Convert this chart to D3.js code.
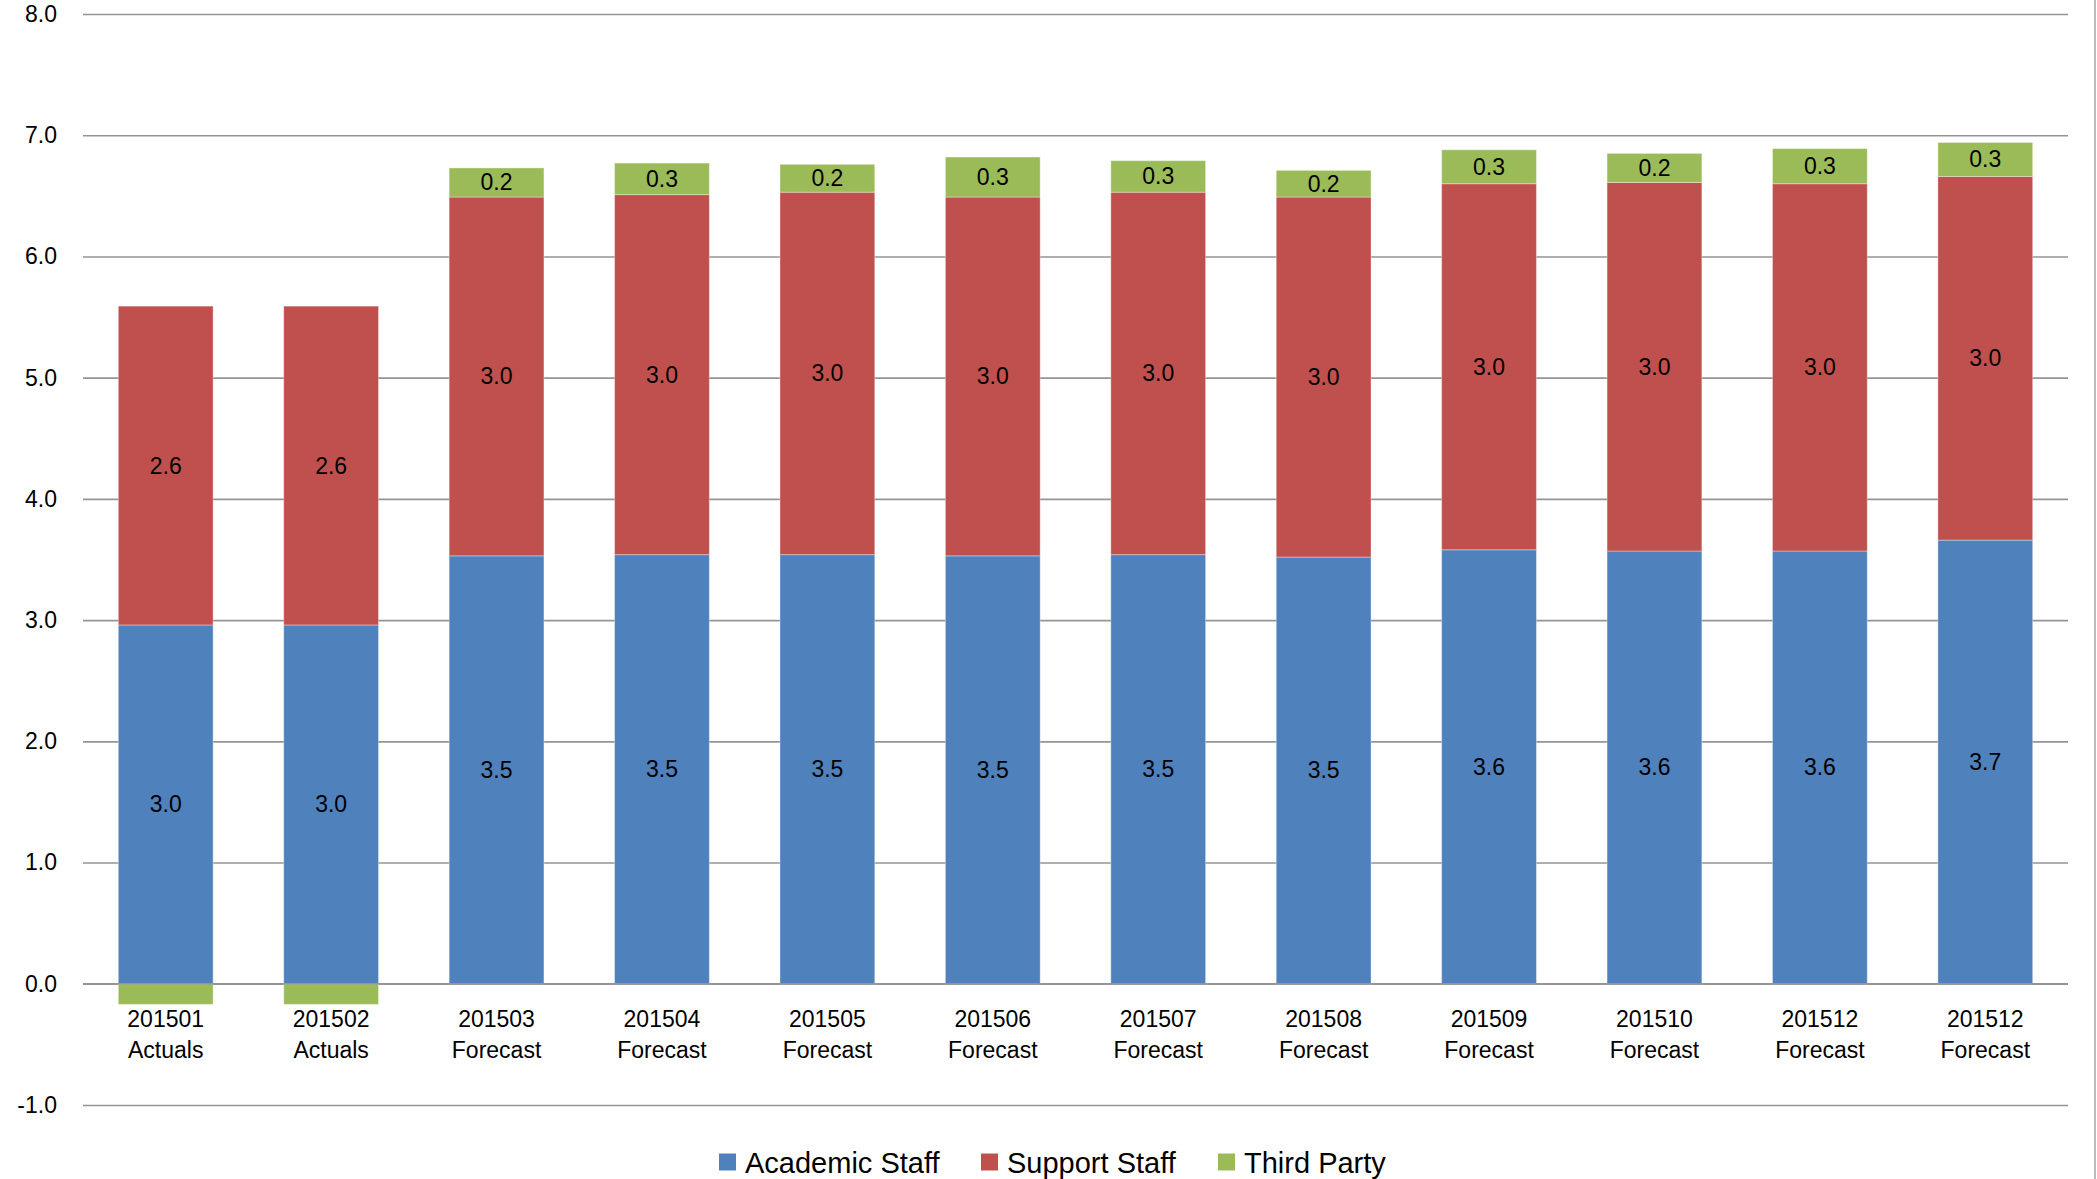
<!DOCTYPE html>
<html>
<head>
<meta charset="utf-8">
<script src="https://cdn.jsdelivr.net/npm/d3@7"></script>
<style>
  html, body { margin: 0; padding: 0; background: #fff; }
  svg { display: block; font-family: "Liberation Sans", Arial, sans-serif; }
</style>
</head>
<body>
<svg id="chart" width="2097" height="1179"></svg>
<script>
// ---- Data ----
const periods = ["201501", "201502", "201503", "201504", "201505", "201506",
                 "201507", "201508", "201509", "201510", "201512", "201512"];
const periodTypes = ["Actuals", "Actuals", "Forecast", "Forecast", "Forecast", "Forecast",
                     "Forecast", "Forecast", "Forecast", "Forecast", "Forecast", "Forecast"];
const seriesNames = ["Academic Staff", "Support Staff", "Third Party"];
const academicStaff = [2.96, 2.96, 3.53, 3.54, 3.54, 3.53, 3.54, 3.52, 3.58, 3.57, 3.57, 3.66];
const supportStaff  = [2.63, 2.63, 2.96, 2.97, 2.99, 2.96, 2.99, 2.97, 3.02, 3.04, 3.03, 3.00];
const thirdParty    = [-0.17, -0.17, 0.24, 0.26, 0.23, 0.33, 0.26, 0.22, 0.28, 0.24, 0.29, 0.28];
const yTicks = [-1, 0, 1, 2, 3, 4, 5, 6, 7, 8];
const colors = ["#4F81BD", "#C0504D", "#9BBB59"];

(function () {
// ---- Layout ----
const svg = d3.select("#chart");
const plotLeft = 83, plotRight = 2068, plotTop = 14, plotBottom = 1105;

const rows = periods.map((p, i) => ({
  idx: i,
  "Academic Staff": academicStaff[i],
  "Support Staff": supportStaff[i],
  "Third Party": thirdParty[i]
}));

const x = d3.scaleBand()
  .domain(rows.map(d => d.idx))
  .range([plotLeft, plotRight])
  .paddingInner(0.427)
  .paddingOuter(0.2135);

const y = d3.scaleLinear().domain([-1, 8]).range([plotBottom, plotTop]);

const color = d3.scaleOrdinal().domain(seriesNames).range(colors);

// Gridlines + y labels via axis
const fmt = v => d3.format(".1f")(v).replace("\u2212", "-");
const yAxis = svg.append("g")
  .attr("transform", `translate(${plotLeft},0)`)
  .call(d3.axisLeft(y).tickValues(yTicks).tickFormat(fmt)
        .tickSize(-(plotRight - plotLeft)).tickPadding(26));
yAxis.select(".domain").remove();
yAxis.selectAll(".tick line").attr("stroke", "#959595").attr("stroke-width", 1.6);
yAxis.selectAll(".tick text").attr("font-size", 23).attr("fill", "#000")
  .attr("font-family", "Liberation Sans, Arial, sans-serif");

// Stack
const stack = d3.stack().keys(seriesNames).offset(d3.stackOffsetDiverging);
const stacked = stack(rows);

const layers = svg.append("g").selectAll("g")
  .data(stacked)
  .join("g")
  .attr("fill", d => color(d.key));

layers.selectAll("rect")
  .data(d => d)
  .join("rect")
  .attr("x", d => x(d.data.idx))
  .attr("width", x.bandwidth())
  .attr("y", d => y(Math.max(d[0], d[1])))
  .attr("height", d => Math.abs(y(d[0]) - y(d[1])))
  .attr("stroke", "#ffffff")
  .attr("stroke-opacity", 0.35)
  .attr("stroke-width", 1);

// Zero line on top
svg.append("line")
  .attr("x1", plotLeft).attr("x2", plotRight)
  .attr("y1", y(0)).attr("y2", y(0))
  .attr("stroke", "#959595").attr("stroke-width", 1.6);

// Data labels
const labelG = svg.append("g");
stacked.forEach(layer => {
  layer.forEach(d => {
    const v = d.data[layer.key];
    if (v <= 0) return;
    labelG.append("text")
      .attr("x", x(d.data.idx) + x.bandwidth() / 2)
      .attr("y", (y(d[0]) + y(d[1])) / 2)
      .attr("text-anchor", "middle")
      .attr("dominant-baseline", "central")
      .attr("font-size", 23)
      .attr("fill", "#000")
      .text(v.toFixed(1));
  });
});

// X axis labels (two lines)
const xAxis = svg.append("g")
  .attr("transform", `translate(0,${y(0)})`)
  .call(d3.axisBottom(x).tickSize(0).tickFormat(""));
xAxis.select(".domain").remove();
xAxis.selectAll(".tick").each(function(d) {
  const t = d3.select(this);
  t.append("text").attr("y", 35).attr("text-anchor", "middle")
    .attr("dominant-baseline", "central").attr("font-size", 23).attr("fill", "#000")
    .attr("font-family", "Liberation Sans, Arial, sans-serif")
    .text(periods[d]);
  t.append("text").attr("y", 66).attr("text-anchor", "middle")
    .attr("dominant-baseline", "central").attr("font-size", 23).attr("fill", "#000")
    .attr("font-family", "Liberation Sans, Arial, sans-serif")
    .text(periodTypes[d]);
});

// Legend
const legendX = [719, 981, 1218];
const legend = svg.append("g").selectAll("g")
  .data(seriesNames)
  .join("g")
  .attr("transform", (d, i) => `translate(${legendX[i]},1162)`);
legend.append("rect")
  .attr("x", 0).attr("y", -8.5).attr("width", 17).attr("height", 17)
  .attr("fill", d => color(d));
legend.append("text")
  .attr("x", 26).attr("y", 1)
  .attr("dominant-baseline", "central")
  .attr("font-size", 29).attr("fill", "#000")
  .text(d => d);

// Right border of chart area
svg.append("line")
  .attr("x1", 2095).attr("x2", 2095).attr("y1", 0).attr("y2", 1179)
  .attr("stroke", "#a6a6a6").attr("stroke-width", 1.5);
})();
</script>
</body>
</html>
